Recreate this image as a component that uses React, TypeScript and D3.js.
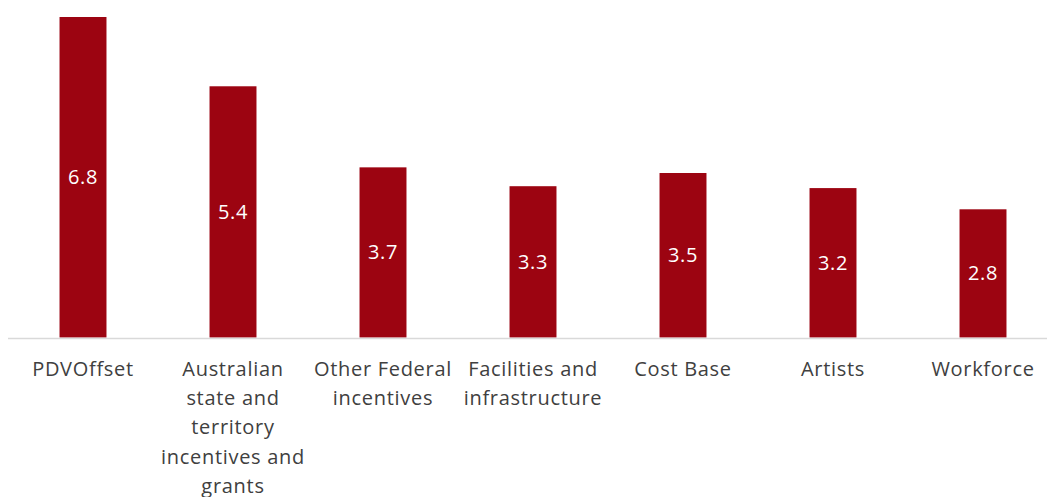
import React, { useEffect, useRef } from "react";
import * as d3 from "d3";

// categories along the x axis
const categories: string[] = [
  "PDVOffset",
  "Australian state and territory incentives and grants",
  "Other Federal incentives",
  "Facilities and infrastructure",
  "Cost Base",
  "Artists",
  "Workforce",
];

// bar heights
const values: number[] = [6.8, 5.33, 3.61, 3.21, 3.49, 3.17, 2.72];

// labels printed inside the bars
const barLabels: string[] = ["6.8", "5.4", "3.7", "3.3", "3.5", "3.2", "2.8"];

const W = 1047;
const H = 497;

const App: React.FC = () => {
  const ref = useRef<SVGSVGElement | null>(null);

  useEffect(() => {
    const svg = d3.select(ref.current);
    svg.selectAll("*").remove();

    const margin = { top: 17, left: 8, right: -11, baseline: 337.5 };
    const font = "'Open Sans', 'Noto Sans', sans-serif";

    const x = d3
      .scaleBand()
      .domain(categories)
      .range([margin.left, W - margin.right])
      .paddingInner(0.687)
      .paddingOuter(0.687 / 2);

    const y = d3
      .scaleLinear()
      .domain([0, 6.8])
      .range([margin.baseline, margin.top]);

    const data = categories.map((c, i) => ({ c, v: values[i], label: barLabels[i] }));

    // bars
    svg
      .append("g")
      .selectAll("rect")
      .data(data)
      .enter()
      .append("rect")
      .attr("x", (d) => x(d.c) || 0)
      .attr("y", (d) => y(d.v))
      .attr("width", x.bandwidth())
      .attr("height", (d) => y(0) - y(d.v))
      .attr("fill", "#9C0411");

    // value labels
    svg
      .append("g")
      .selectAll("text")
      .data(data)
      .enter()
      .append("text")
      .attr("x", (d) => (x(d.c) || 0) + x.bandwidth() / 2)
      .attr("y", (d) => (y(d.v) + y(0)) / 2 + 7)
      .attr("text-anchor", "middle")
      .attr("font-family", font)
      .attr("font-size", 20)
      .attr("letter-spacing", 0.6)
      .attr("fill", "#ffffff")
      .text((d) => d.label);

    // baseline
    svg
      .append("line")
      .attr("x1", 8)
      .attr("x2", W)
      .attr("y1", 338.5)
      .attr("y2", 338.5)
      .attr("stroke", "#d9d9d9")
      .attr("stroke-width", 1.5);

    // category labels with wrapping
    const maxWidth = 152;
    const lineHeight = 29.2;
    const g = svg.append("g");
    data.forEach((d) => {
      const t = g
        .append("text")
        .attr("x", (x(d.c) || 0) + x.bandwidth() / 2)
        .attr("y", 376)
        .attr("text-anchor", "middle")
        .attr("font-family", font)
        .attr("font-size", 20)
        .attr("letter-spacing", 0.7)
        .attr("fill", "#404040");
      const words = d.c.split(" ");
      let line: string[] = [];
      let tspan = t.append("tspan").attr("x", t.attr("x")).attr("dy", 0);
      words.forEach((w) => {
        line.push(w);
        tspan.text(line.join(" "));
        const node = tspan.node() as SVGTSpanElement;
        if (node.getComputedTextLength() > maxWidth && line.length > 1) {
          line.pop();
          tspan.text(line.join(" "));
          line = [w];
          tspan = t
            .append("tspan")
            .attr("x", t.attr("x"))
            .attr("dy", lineHeight)
            .text(w);
        }
      });
    });
  }, []);

  return (
    <svg
      ref={ref}
      width={W}
      height={H}
      style={{ position: "absolute", left: 0, top: 0, background: "#fff" }}
    />
  );
};

export default App;
